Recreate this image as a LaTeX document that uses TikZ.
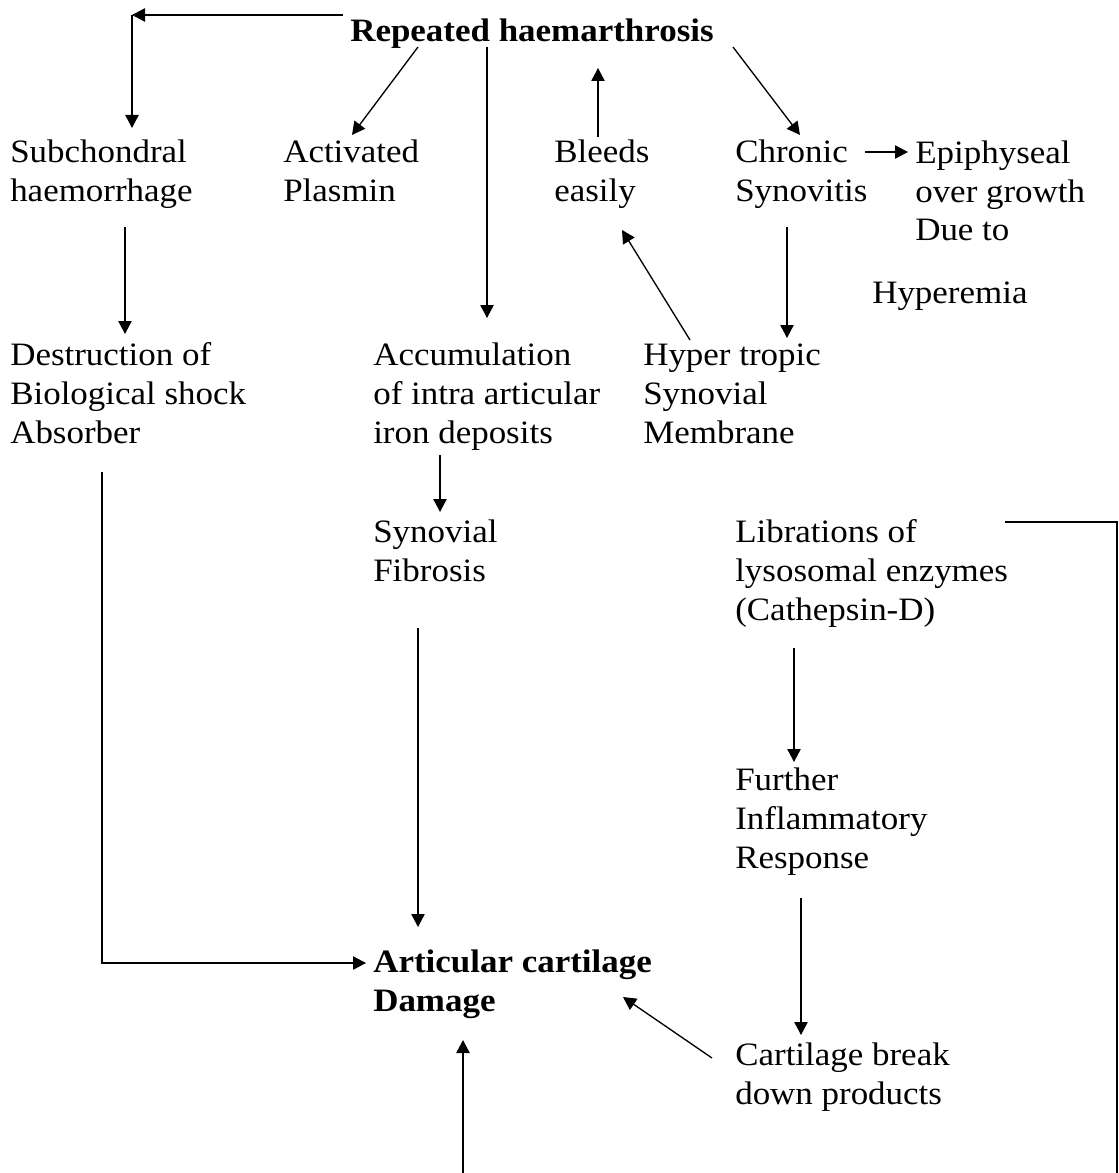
\documentclass[tikz,border=0pt]{standalone}
\usepackage{fontspec}
\setmainfont{Liberation Serif}[FakeStretch=1.07]
\usetikzlibrary{arrows.meta}
\begin{document}
\begin{tikzpicture}[x=0.75pt,y=-0.75pt,
  lbl/.style={anchor=base west,inner sep=0pt,align=left,
    font=\fontsize{24.5pt}{29.25pt}\selectfont},
  hd/.style={lbl,font=\fontsize{24.5pt}{29.25pt}\selectfont\bfseries},
  conn/.style={line width=1pt},
  arr/.style={conn,-{Triangle[length=9.75pt,width=10pt]}}]
\useasboundingbox (0,0) rectangle (1119,1173);

% text blocks (placed at the baseline of their last line)
\node[hd]  (rep)  at (350,42)   {Repeated haemarthrosis};
\node[lbl] (sub)  at (10,202)   {Subchondral\\haemorrhage};
\node[lbl] (act)  at (283,202)  {Activated\\Plasmin};
\node[lbl] (ble)  at (554,202)  {Bleeds\\easily};
\node[lbl] (chr)  at (735,202)  {Chronic\\Synovitis};
\node[lbl] (epi)  at (915,241)  {Epiphyseal\\over growth\\Due to};
\node[lbl] (hyp)  at (872,303)  {Hyperemia};
\node[lbl] (des)  at (10,443)   {Destruction of\\Biological shock\\Absorber};
\node[lbl] (acc)  at (373,443)  {Accumulation\\of intra articular\\iron deposits};
\node[lbl] (hsm)  at (643,443)  {Hyper tropic\\Synovial\\Membrane};
\node[lbl] (fib)  at (373,581)  {Synovial\\Fibrosis};
\node[lbl] (lib)  at (735,620)  {Librations of\\lysosomal enzymes\\(Cathepsin-D)};
\node[lbl] (fur)  at (735,868)  {Further\\Inflammatory\\Response};
\node[hd]  (art)  at (373,1011) {Articular cartilage\\Damage};
\node[lbl] (cbd)  at (735,1104) {Cartilage break\\down products};

% connector end points
\coordinate (repL)  at (343,15);
\coordinate (cnrTL) at (132,15);
\coordinate (subT)  at (132,128);
\coordinate (repA)  at (418,47);
\coordinate (actT)  at (352,135);
\coordinate (repD)  at (487,47);
\coordinate (accT)  at (487,318);
\coordinate (bleT)  at (598,137);
\coordinate (repB)  at (598,68);
\coordinate (repC)  at (733,47);
\coordinate (chrT)  at (800,135);
\coordinate (chrR)  at (865,152);
\coordinate (epiL)  at (908,152);
\coordinate (subB)  at (125,227);
\coordinate (desT)  at (125,334);
\coordinate (chrB)  at (787,227);
\coordinate (hsmT)  at (787,338);
\coordinate (hsmA)  at (690,340);
\coordinate (bleB)  at (622,230);
\coordinate (accB)  at (440,455);
\coordinate (fibT)  at (440,512);
\coordinate (fibB)  at (418,628);
\coordinate (artT)  at (418,927);
\coordinate (desB)  at (102,472);
\coordinate (cnrBL) at (102,963);
\coordinate (artL)  at (366,963);
\coordinate (libB)  at (794,648);
\coordinate (furT)  at (794,762);
\coordinate (furB)  at (801,898);
\coordinate (cbdT)  at (801,1035);
\coordinate (cbdL)  at (712,1058);
\coordinate (artR)  at (623,997);
\coordinate (botS)  at (463,1173);
\coordinate (artB)  at (463,1040);
\coordinate (libR)  at (1005,522);
\coordinate (cnrR)  at (1117,522);
\coordinate (botR)  at (1117,1173);

% connectors
\draw[arr] (repL) -- (cnrTL);
\draw[arr] (cnrTL) -- (subT);
\draw[arr] (repA) -- (actT);
\draw[arr] (repD) -- (accT);
\draw[arr] (bleT) -- (repB);
\draw[arr] (repC) -- (chrT);
\draw[arr] (chrR) -- (epiL);
\draw[arr] (subB) -- (desT);
\draw[arr] (chrB) -- (hsmT);
\draw[arr] (hsmA) -- (bleB);
\draw[arr] (accB) -- (fibT);
\draw[arr] (fibB) -- (artT);
\draw[arr] (desB) -- (cnrBL) -- (artL);
\draw[arr] (libB) -- (furT);
\draw[arr] (furB) -- (cbdT);
\draw[arr] (cbdL) -- (artR);
\draw[arr] (botS) -- (artB);
\draw[conn] (libR) -- (cnrR) -- (botR);
\end{tikzpicture}
\end{document}
